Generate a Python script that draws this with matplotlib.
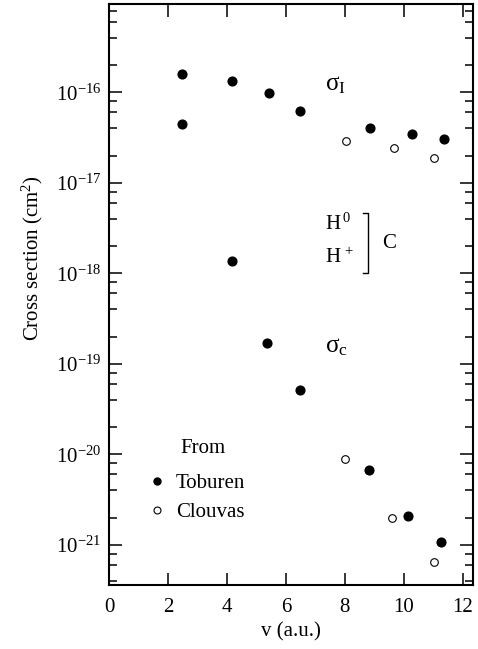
import matplotlib
matplotlib.use('Agg')
import matplotlib.pyplot as plt
from matplotlib.ticker import LogLocator, NullFormatter, LogFormatterMathtext
from matplotlib.lines import Line2D

plt.rcParams['font.family'] = ['Liberation Serif', 'DejaVu Serif']
plt.rcParams['mathtext.fontset'] = 'custom'
plt.rcParams['mathtext.rm'] = 'Liberation Serif'
plt.rcParams['mathtext.it'] = 'Liberation Serif:italic'

# ionisation cross section sigma_I
v_ion_toburen = [2.46, 4.16, 5.42, 6.48, 8.85, 10.29, 11.37]
s_ion_toburen = [1.6e-16, 1.35e-16, 9.75e-17, 6.15e-17, 4.0e-17, 3.44e-17, 3.03e-17]
v_ion_clouvas = [8.04, 9.68, 11.04]
s_ion_clouvas = [2.9e-17, 2.45e-17, 1.9e-17]

# capture cross section sigma_c
v_cap_toburen = [2.46, 4.16, 5.34, 6.49, 8.82, 10.15, 11.26]
s_cap_toburen = [4.44e-17, 1.38e-18, 1.71e-19, 5.1e-20, 6.8e-21, 2.08e-21, 1.08e-21]
v_cap_clouvas = [8.01, 9.6, 11.03]
s_cap_clouvas = [9.0e-21, 1.96e-21, 6.5e-22]

x_ticks = [0, 2, 4, 6, 8, 10, 12]
y_ticks = [1e-21, 1e-20, 1e-19, 1e-18, 1e-17, 1e-16]


def main():
    fig = plt.figure(figsize=(4.78, 6.49), dpi=100)
    ax = fig.add_axes([0.2287, 0.0986, 0.7608, 0.896])

    filled = dict(marker='o', ls='none', ms=6.3, mfc='black', mec='black')
    hollow = dict(marker='o', ls='none', ms=5.5, mfc='white', mec='black', mew=0.8)

    ax.plot(v_ion_toburen, s_ion_toburen, **filled)
    ax.plot(v_cap_toburen, s_cap_toburen, **filled)
    ax.plot(v_ion_clouvas, s_ion_clouvas, **hollow)
    ax.plot(v_cap_clouvas, s_cap_clouvas, **hollow)

    ax.set_yscale('log')
    ax.set_xlim(0, 12.35)
    ax.set_ylim(3.6e-22, 9.6e-16)
    ax.set_xticks(x_ticks)
    ax.set_yticks(y_ticks)
    ax.yaxis.set_minor_locator(LogLocator(base=10, subs=(2, 4, 6, 8), numticks=20))
    ax.yaxis.set_major_formatter(LogFormatterMathtext())
    ax.yaxis.set_minor_formatter(NullFormatter())

    ax.tick_params(which='both', direction='in', top=True, right=True, labelsize=15)
    ax.tick_params(axis='y', which='major', length=9.5, width=1.1, pad=6)
    ax.tick_params(axis='y', which='minor', length=6, width=1.1)
    ax.tick_params(axis='x', which='major', length=9, width=1.1, pad=9)
    for s in ax.spines.values():
        s.set_linewidth(1.5)

    ax.set_xlabel('v (a.u.)', fontsize=15, labelpad=4)
    fig.text(32 / 478, 1 - 258 / 649, 'Cross section (cm$^2$)', rotation=90,
             fontsize=15, ha='center', va='center')

    ax.text(0.593, 0.860, r'$\mathrm{σ}_\mathrm{I}$', transform=ax.transAxes,
            fontsize=18, va='center')
    ax.text(0.593, 0.409, r'$\mathrm{σ}_\mathrm{c}$', transform=ax.transAxes,
            fontsize=18, va='center')

    ax.text(0.594, 0.620, r'H$^{\,0}$', transform=ax.transAxes, fontsize=15, va='center')
    ax.text(0.594, 0.563, r'H$^{\,+}$', transform=ax.transAxes, fontsize=15, va='center')
    ax.text(0.750, 0.588, 'C', transform=ax.transAxes, fontsize=15, va='center')
    ax.plot([0.697, 0.710, 0.710, 0.697], [0.640, 0.640, 0.537, 0.537],
            transform=ax.transAxes, color='black', lw=1.0)

    ax.text(0.195, 0.235, 'From', transform=ax.transAxes, fontsize=15, va='center')
    handles = [Line2D([], [], marker='o', ls='none', ms=5, mfc='black', mec='black'),
               Line2D([], [], marker='o', ls='none', ms=5, mfc='white', mec='black', mew=0.8)]
    ax.legend(handles, ['Toburen', 'Clouvas'], loc='upper left',
              bbox_to_anchor=(0.085, 0.21), frameon=False, fontsize=15,
              handlelength=0.6, handletextpad=0.6, labelspacing=0.45, borderpad=0)

    fig.savefig('out.png', dpi=100)


if __name__ == '__main__':
    main()
